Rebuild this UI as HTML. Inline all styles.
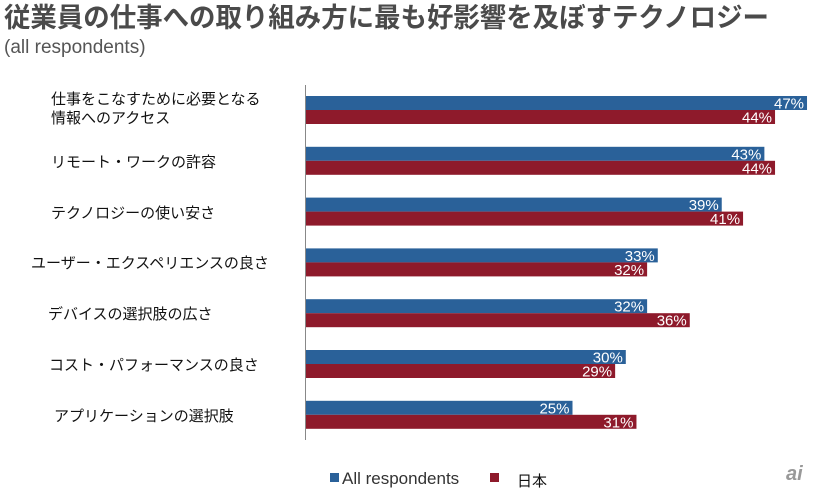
<!DOCTYPE html>
<html><head><meta charset="utf-8"><style>
html,body{margin:0;padding:0;background:#fff;width:814px;height:490px;overflow:hidden}
svg text{font-family:"Liberation Sans","Noto Sans CJK JP",sans-serif}
</style></head><body>
<svg width="814" height="490" xmlns="http://www.w3.org/2000/svg">
<text x="4" y="27" font-size="27" font-weight="bold" fill="#4a4a4a" textLength="765" lengthAdjust="spacingAndGlyphs">従業員の仕事への取り組み方に最も好影響を及ぼすテクノロジー</text>
<text x="4" y="53" font-size="19" fill="#555">(all respondents)</text>
<line x1="305.5" y1="85" x2="305.5" y2="440" stroke="#888" stroke-width="1"/>
<g font-size="15" fill="#111">
<text x="51" y="104">仕事をこなすために必要となる</text>
<text x="51" y="123">情報へのアクセス</text>
<text x="51" y="167">リモート・ワークの許容</text>
<text x="51" y="218">テクノロジーの使い安さ</text>
<text x="31" y="268">ユーザー・エクスペリエンスの良さ</text>
<text x="48" y="319">デバイスの選択肢の広さ</text>
<text x="49" y="370">コスト・パフォーマンスの良さ</text>
<text x="54" y="421">アプリケーションの選択肢</text>
</g>
<g id="bars" font-size="15" fill="#fff"></g>
<rect x="330" y="473" width="9" height="9" fill="#2a6199"/>
<text x="342" y="484" font-size="17" fill="#333">All respondents</text>
<rect x="490" y="473" width="9" height="9" fill="#8e1a2b"/>
<text x="517" y="486" font-size="15" fill="#111">日本</text>
<text x="786" y="480" font-size="20" font-style="italic" font-weight="bold" fill="#999" font-family="Liberation Serif,serif">ai</text>
</svg>
<script>
var b=[47,43,39,33,32,30,25],r=[44,44,41,32,36,29,31],g=document.getElementById('bars'),s='',k=10.66,x0=306;
for(var i=0;i<7;i++){var y=96+i*50.8;
var wb=b[i]*k,wr=r[i]*k;
s+='<rect x="'+x0+'" y="'+y+'" width="'+wb+'" height="14" fill="#2a6199"/>';
s+='<rect x="'+x0+'" y="'+(y+14)+'" width="'+wr+'" height="14" fill="#8e1a2b"/>';
s+='<text x="'+(x0+wb-3)+'" y="'+(y+12.5)+'" text-anchor="end">'+b[i]+'%</text>';
s+='<text x="'+(x0+wr-3)+'" y="'+(y+26.5)+'" text-anchor="end">'+r[i]+'%</text>';}
g.innerHTML=s;
</script>
</body></html>
